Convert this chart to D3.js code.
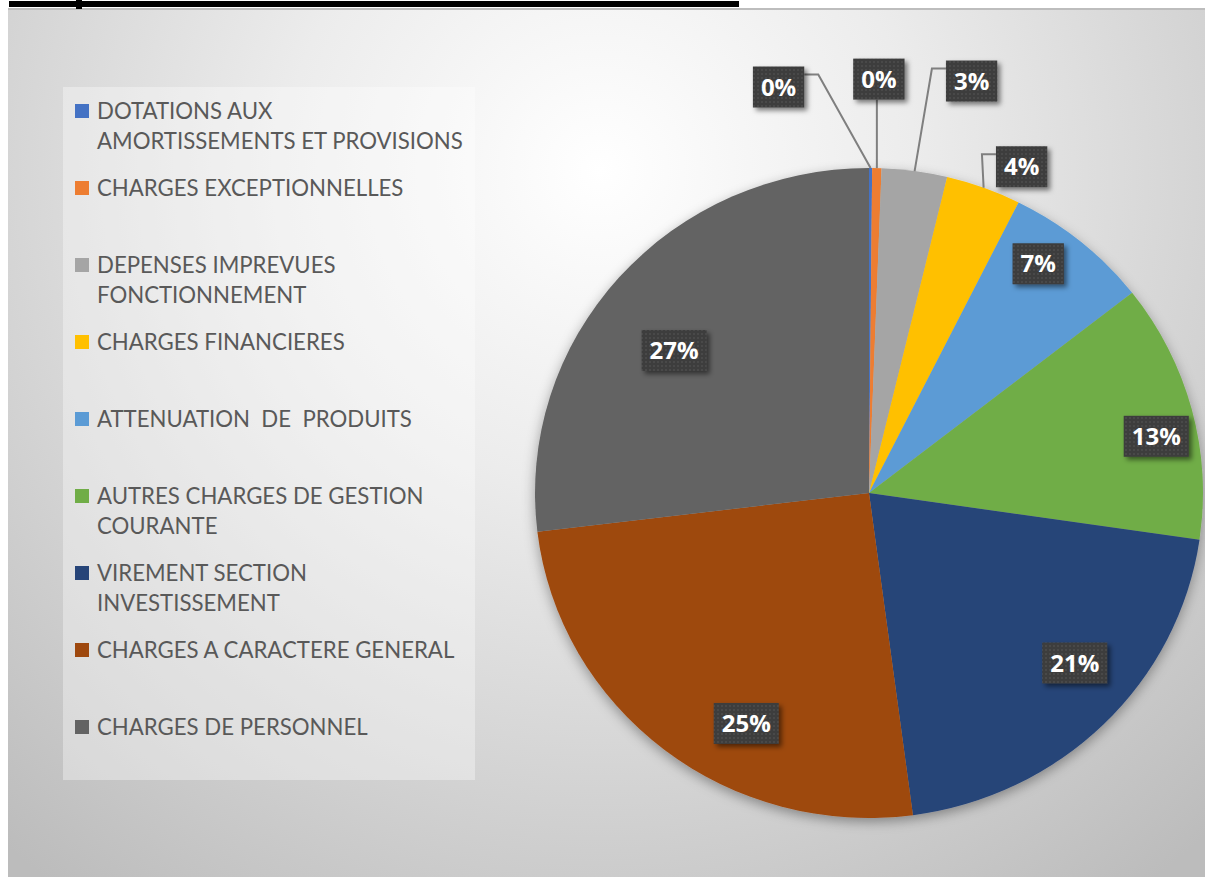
<!DOCTYPE html>
<html>
<head>
<meta charset="utf-8">
<script src="https://cdn.jsdelivr.net/npm/d3@7"></script>
<style>
    body { margin: 0; background: #fff; }
    svg { display: block; }
</style>
</head>
<body>
<div id="chart"></div>
<script>
// categories, in pie order (clockwise from 12 o'clock); "\n" = legend line break
var categories = [
    "DOTATIONS AUX\nAMORTISSEMENTS ET PROVISIONS",
    "CHARGES EXCEPTIONNELLES",
    "DEPENSES IMPREVUES\nFONCTIONNEMENT",
    "CHARGES FINANCIERES",
    "ATTENUATION  DE  PRODUITS",
    "AUTRES CHARGES DE GESTION\nCOURANTE",
    "VIREMENT SECTION\nINVESTISSEMENT",
    "CHARGES A CARACTERE GENERAL",
    "CHARGES DE PERSONNEL"
];

// share of each category (percent)
var values = [0.15, 0.45, 3.16, 3.63, 7.05, 12.86, 20.6, 25.2, 26.9];

var colors = ["#4472C4", "#ED7D31", "#A5A5A5", "#FFC000", "#5B9BD5",
              "#70AD47", "#264478", "#9E480E", "#636363"];

// which data labels sit outside the pie, with a leader line
var labelOutside = [true, true, true, true, false, false, false, false, false];

// manual label adjustments (px), like moved labels in the original
var labelNudge = [[-92, -81], [2, -89], [57, -90], [38, -21],
                  [0, -28], [29, 10], [18, -15], [41, 25], [5, 30]];

var
    width = 1205,
    height = 877,
    cx = 869,
    cy = 493,
    rx = 334,
    ry = 325;

var svg = d3.select("#chart").append("svg")
    .attr("width", width)
    .attr("height", height);

var defs = svg.append("defs");

var bg = defs.append("radialGradient")
    .attr("id", "bg")
    .attr("gradientUnits", "userSpaceOnUse")
    .attr("cx", 600).attr("cy", 170).attr("r", 900);
bg.append("stop").attr("offset", "0%").attr("stop-color", "#ffffff");
bg.append("stop").attr("offset", "35%").attr("stop-color", "#ececec");
bg.append("stop").attr("offset", "100%").attr("stop-color", "#bcbcbc");

var pieShadow = defs.append("filter").attr("id", "pieShadow")
    .attr("x", "-10%").attr("y", "-10%").attr("width", "120%").attr("height", "125%");
pieShadow.append("feDropShadow")
    .attr("dx", 0).attr("dy", 4).attr("stdDeviation", 6)
    .attr("flood-color", "#000").attr("flood-opacity", 0.35);

var boxShadow = defs.append("filter").attr("id", "boxShadow")
    .attr("x", "-30%").attr("y", "-30%").attr("width", "170%").attr("height", "180%");
boxShadow.append("feDropShadow")
    .attr("dx", 3).attr("dy", 3).attr("stdDeviation", 2.5)
    .attr("flood-color", "#000").attr("flood-opacity", 0.5);

var dots = defs.append("pattern").attr("id", "dots")
    .attr("patternUnits", "userSpaceOnUse")
    .attr("width", 4).attr("height", 4);
dots.append("rect").attr("width", 4).attr("height", 4).attr("fill", "#3c3c3c");
dots.append("circle").attr("cx", 2).attr("cy", 2).attr("r", 0.8).attr("fill", "#595959");

// chart area
svg.append("rect")
    .attr("x", 8).attr("y", 8)
    .attr("width", width - 8).attr("height", height - 8)
    .attr("fill", "url(#bg)");
svg.append("line")
    .attr("x1", 8).attr("x2", width).attr("y1", 9).attr("y2", 9)
    .attr("stroke", "#bdbdbd").attr("stroke-width", 2);

// black underline left over above the chart
svg.append("rect").attr("x", 9).attr("y", 1).attr("width", 730).attr("height", 6).attr("fill", "#000");
svg.append("rect").attr("x", 76).attr("y", 0).attr("width", 6).attr("height", 9).attr("fill", "#000");

// legend
svg.append("rect")
    .attr("x", 63).attr("y", 87)
    .attr("width", 412).attr("height", 693)
    .attr("fill", "#fff").attr("fill-opacity", 0.35);

var legendTop = 111,
    legendStep = 77,
    lineStep = 30.5;

// fit legend font so the longest line is as wide as in the picture
var probe = svg.append("text")
    .attr("font-family", "Lato, 'Open Sans', sans-serif")
    .attr("font-size", 20)
    .text("AMORTISSEMENTS ET PROVISIONS");
var legendFont = 20 * 366 / probe.node().getComputedTextLength();
probe.remove();

var legend = svg.append("g").selectAll("g")
    .data(categories)
    .enter()
    .append("g")
    .attr("transform", function(d, i){ return "translate(0," + (legendTop + i * legendStep) + ")"; });

legend.append("rect")
    .attr("x", 75).attr("y", -7)
    .attr("width", 14).attr("height", 14)
    .attr("fill", function(d, i){ return colors[i]; });

legend.append("text")
    .attr("font-family", "Lato, 'Open Sans', sans-serif")
    .attr("font-size", legendFont)
    .attr("fill", "#595959")
    .style("white-space", "pre")
    .selectAll("tspan")
    .data(function(d){ return d.split("\n"); })
    .enter()
    .append("tspan")
    .attr("x", 97)
    .attr("y", function(d, i){ return i * lineStep; })
    .attr("dy", "0.36em")
    .text(function(d){ return d; });

// pie
var pie = d3.pie().sort(null).value(function(d){ return d; });
var arcs = pie(values);
var total = d3.sum(values);
var pct = d3.format(".0%");

var arc = d3.arc().innerRadius(0).outerRadius(ry);

svg.append("g")
    .attr("filter", "url(#pieShadow)")
    .attr("transform", "translate(" + cx + "," + cy + ") scale(" + (rx / ry) + ",1)")
    .selectAll("path")
    .data(arcs)
    .enter()
    .append("path")
    .attr("d", arc)
    .attr("fill", function(d, i){ return colors[i]; });

// data labels
function onEllipse(a, f) {
    return [cx + Math.sin(a) * rx * f, cy - Math.cos(a) * ry * f];
}

var leaders = svg.append("g");
var labels = svg.append("g");

arcs.forEach(function(d, i){
    var mid = (d.startAngle + d.endAngle) / 2,
        anchor = onEllipse(mid, labelOutside[i] ? 1 : 0.8),
        lx = anchor[0] + labelNudge[i][0],
        ly = anchor[1] + labelNudge[i][1];

    var g = labels.append("g");
    var box = g.append("rect")
        .attr("fill", "url(#dots)")
        .attr("filter", "url(#boxShadow)");
    var t = g.append("text")
        .attr("x", lx).attr("y", ly).attr("dy", "0.36em")
        .attr("text-anchor", "middle")
        .attr("font-family", "'Open Sans', sans-serif")
        .attr("font-weight", "bold")
        .attr("font-size", 24)
        .attr("fill", "#fff")
        .text(pct(values[i] / total));

    var bw = t.node().getComputedTextLength() + 16,
        bh = 41,
        x0 = lx - bw / 2, x1 = lx + bw / 2,
        y0 = ly - bh / 2, y1 = ly + bh / 2;
    box.attr("x", x0).attr("y", y0).attr("width", bw).attr("height", bh);

    if (labelOutside[i]) {
        var p = onEllipse(mid, 1), path;
        if (p[0] > x1) {
            path = "M" + x1 + "," + (y0 + 8) + "H" + (x1 + 14) + "L" + p[0] + "," + p[1];
        } else if (p[0] < x0) {
            path = "M" + x0 + "," + (y0 + 8) + "H" + (x0 - 14) + "L" + p[0] + "," + p[1];
        } else {
            path = "M" + p[0] + "," + y1 + "V" + p[1];
        }
        leaders.append("path")
            .attr("d", path)
            .attr("fill", "none")
            .attr("stroke", "#7f7f7f")
            .attr("stroke-width", 2);
    }
});
</script>
</body>
</html>
